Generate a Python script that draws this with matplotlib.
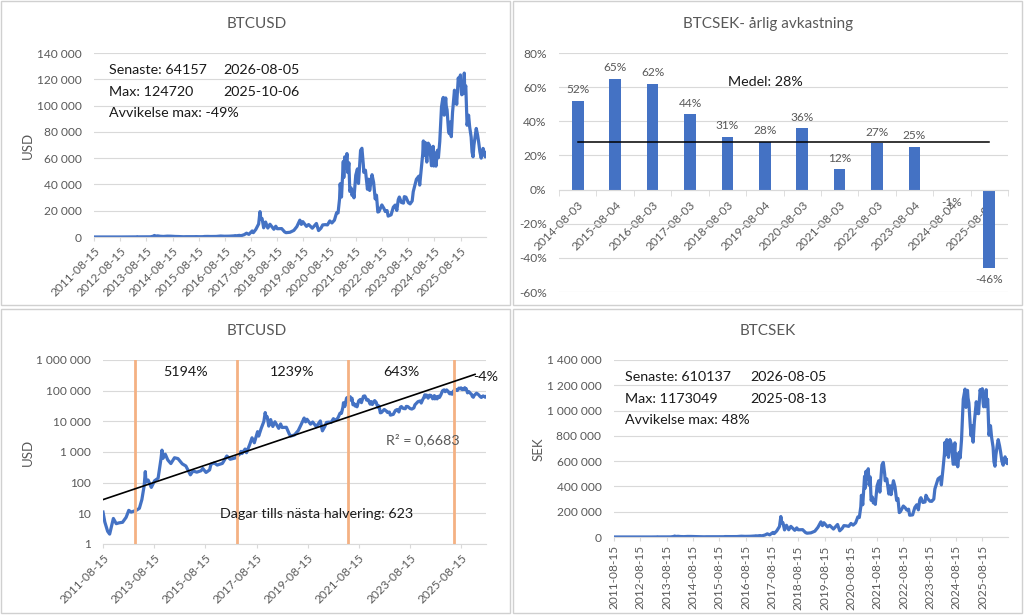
import numpy as np
import pandas as pd
import matplotlib
matplotlib.use("Agg")
import matplotlib.pyplot as plt
import matplotlib.dates as mdates
from matplotlib.ticker import FuncFormatter, FixedLocator, NullLocator
from matplotlib.patches import Rectangle

plt.rcParams['font.family'] = ['Lato', 'DejaVu Sans']

# ---- data ----
dates = [
    "2011-08-15", "2011-09-10", "2011-10-20", "2011-11-18", "2011-12-20", "2012-01-10",
    "2012-02-20", "2012-04-01", "2012-05-20", "2012-07-10", "2012-08-17", "2012-09-20",
    "2012-11-28", "2013-01-15", "2013-02-20", "2013-03-25", "2013-04-10", "2013-04-20",
    "2013-05-20", "2013-07-05", "2013-08-20", "2013-10-10", "2013-11-20", "2013-12-04",
    "2013-12-18", "2014-01-20", "2014-02-25", "2014-04-10", "2014-06-01", "2014-07-20",
    "2014-09-20", "2014-11-10", "2015-01-14", "2015-02-20", "2015-04-15", "2015-06-15",
    "2015-07-10", "2015-08-25", "2015-10-15", "2015-11-04", "2015-12-20", "2016-02-01",
    "2016-04-15", "2016-06-17", "2016-08-05", "2016-10-15", "2016-12-20", "2017-01-05",
    "2017-01-20", "2017-03-05", "2017-03-25", "2017-05-10", "2017-06-12", "2017-07-15",
    "2017-08-30", "2017-09-15", "2017-10-20", "2017-11-28", "2017-12-17", "2017-12-30",
    "2018-01-15", "2018-02-06", "2018-03-05", "2018-04-05", "2018-05-05", "2018-06-28",
    "2018-07-25", "2018-08-15", "2018-10-15", "2018-11-25", "2018-12-15", "2019-02-08",
    "2019-04-03", "2019-05-15", "2019-06-26", "2019-07-17", "2019-08-06", "2019-09-26",
    "2019-10-26", "2019-12-17", "2020-02-12", "2020-03-13", "2020-04-15", "2020-05-10",
    "2020-06-15", "2020-07-15", "2020-08-17", "2020-09-15", "2020-10-20", "2020-11-20",
    "2020-12-10", "2020-12-31", "2021-01-08", "2021-01-27", "2021-02-21", "2021-02-28",
    "2021-03-13", "2021-03-25", "2021-04-13", "2021-04-25", "2021-05-10", "2021-05-23",
    "2021-06-10", "2021-06-22", "2021-07-10", "2021-07-20", "2021-08-14", "2021-09-06",
    "2021-09-21", "2021-10-20", "2021-11-08", "2021-11-28", "2021-12-04", "2021-12-27",
    "2022-01-24", "2022-02-10", "2022-02-24", "2022-03-29", "2022-04-20", "2022-05-12",
    "2022-05-30", "2022-06-18", "2022-07-03", "2022-08-13", "2022-09-10", "2022-09-30",
    "2022-10-25", "2022-11-09", "2022-12-20", "2023-01-20", "2023-02-15", "2023-03-10",
    "2023-03-30", "2023-04-14", "2023-05-12", "2023-06-10", "2023-06-23", "2023-07-15",
    "2023-08-18", "2023-09-11", "2023-10-10", "2023-10-25", "2023-12-08", "2024-01-11",
    "2024-01-23", "2024-02-15", "2024-03-05", "2024-03-14", "2024-03-20", "2024-04-08",
    "2024-05-01", "2024-05-21", "2024-06-10", "2024-07-05", "2024-07-29", "2024-08-05",
    "2024-08-25", "2024-09-06", "2024-09-27", "2024-10-10", "2024-10-29", "2024-11-12",
    "2024-11-22", "2024-12-05", "2024-12-17", "2024-12-30", "2025-01-20", "2025-01-27",
    "2025-02-08", "2025-02-28", "2025-03-11", "2025-03-24", "2025-04-08", "2025-04-25",
    "2025-05-22", "2025-06-05", "2025-06-12", "2025-06-22", "2025-07-14", "2025-07-31",
    "2025-08-13", "2025-08-25", "2025-09-01", "2025-09-18", "2025-09-25", "2025-10-06",
    "2025-10-12", "2025-10-27", "2025-11-04", "2025-11-14", "2025-12-05", "2025-12-20",
    "2026-01-10", "2026-01-22", "2026-02-05", "2026-02-18", "2026-03-10", "2026-03-22",
    "2026-04-10", "2026-04-25", "2026-05-12", "2026-05-30", "2026-06-10", "2026-06-25",
    "2026-07-15", "2026-07-25", "2026-08-05",
]
btc_usd = [
    11, 5.2, 2.6, 2.1, 4.2, 6.8,
    4.6, 4.9, 5.1, 7.4, 12.5, 11,
    12.4, 14.5, 28, 80, 230, 105,
    122, 70, 115, 140, 600, 1150,
    620, 850, 550, 420, 650, 610,
    410, 350, 180, 240, 220, 245,
    290, 215, 260, 400, 440, 375,
    425, 740, 580, 640, 860, 1050,
    890, 1250, 950, 1750, 2900, 2000,
    4600, 3300, 5800, 9900, 19300, 13500,
    14000, 7000, 11400, 6800, 9700, 5900,
    8200, 6300, 6400, 3900, 3300, 3600,
    5000, 7900, 12800, 9600, 11700, 8100,
    9500, 6700, 10300, 4900, 6700, 9200,
    9400, 9200, 12200, 10700, 12800, 18500,
    18300, 29000, 40500, 30400, 57500, 45200,
    61000, 52300, 63500, 49000, 56500, 34700,
    37300, 31700, 33800, 29800, 47000, 51800,
    40700, 65900, 67500, 54700, 49200, 50800,
    36300, 44000, 35400, 47400, 41500, 29000,
    31800, 19000, 19300, 24400, 21800, 19400,
    20100, 15900, 16900, 22700, 24300, 20200,
    28400, 30400, 26300, 25800, 30700, 30300,
    26100, 25200, 27400, 34500, 43900, 46300,
    39500, 52000, 63000, 73100, 62000, 72000,
    57000, 71400, 69600, 54200, 69000, 54000,
    64000, 53900, 66000, 60300, 72700, 88000,
    98900, 103700, 106200, 92700, 105800, 99700,
    96700, 80800, 78600, 87500, 76300, 94700,
    111700, 101600, 108400, 100900, 121000, 115700,
    123300, 110100, 108200, 117000, 109000, 124720,
    112000, 115000, 101000, 85000, 92700, 83800,
    76000, 64800, 61000, 70000, 78000, 82600,
    77500, 72000, 64800, 60000, 63000, 67400,
    63500, 61000, 64157,
]
btc_sek = [
    72, 34, 17, 14, 29, 47,
    31, 33, 36, 52, 83, 73,
    83, 93, 180, 520, 1500, 690,
    800, 470, 760, 900, 3900, 7500,
    4050, 5500, 3550, 2750, 4350, 4200,
    2950, 2600, 1450, 2000, 1900, 2000,
    2450, 1800, 2150, 3450, 3750, 3200,
    3450, 6200, 4950, 5600, 7950, 9500,
    8000, 11200, 8500, 15500, 25000, 16800,
    36500, 27000, 47500, 83000, 162000, 112000,
    113000, 56000, 93000, 57000, 84000, 53000,
    72000, 57000, 58000, 35000, 30000, 33000,
    46000, 76000, 120000, 90000, 113000, 80000,
    92000, 63000, 99000, 49000, 67000, 90000,
    88000, 84000, 107000, 94000, 112000, 159000,
    154000, 240000, 330000, 255000, 480000, 385000,
    520000, 455000, 540000, 410000, 475000, 290000,
    315000, 270000, 290000, 258000, 405000, 445000,
    355000, 570000, 590000, 495000, 445000, 460000,
    340000, 405000, 335000, 445000, 395000, 290000,
    305000, 193000, 200000, 245000, 230000, 213000,
    220000, 172000, 175000, 234000, 255000, 215000,
    295000, 311000, 273000, 277000, 330000, 305000,
    283000, 282000, 300000, 380000, 460000, 475000,
    412000, 540000, 655000, 750000, 650000, 770000,
    630000, 770000, 735000, 575000, 745000, 575000,
    655000, 555000, 670000, 625000, 770000, 960000,
    1090000, 1130000, 1170000, 1025000, 1160000, 1100000,
    1060000, 870000, 800000, 880000, 750000, 910000,
    1070000, 980000, 1030000, 975000, 1165000, 1120000,
    1173049, 1060000, 1030000, 1100000, 1030000, 1165000,
    1060000, 1090000, 960000, 805000, 880000, 790000,
    710000, 595000, 560000, 650000, 730000, 770000,
    720000, 670000, 600000, 568000, 590000, 634000,
    600000, 580000, 610137,
]

year_dates = ["2014-08-03", "2015-08-04", "2016-08-03", "2017-08-03", "2018-08-03", "2019-08-04",
              "2020-08-03", "2021-08-03", "2022-08-03", "2023-08-04", "2024-08-04", "2025-08-04"]
year_returns = [52, 65, 62, 44, 31, 28, 36, 12, 27, 25, -1, -46]

halving_dates = ["2012-11-10", "2016-11-06", "2021-03-17", "2025-05-05"]
halving_gains = ["5194%", "1239%", "643%", "-4%"]
trend_dates = ["2011-08-15", "2026-03-01"]
trend_values = [28, 340000]

BLUE = "#4472C4"
ORANGE = "#F4B183"
GRID = "#D9D9D9"
TXT = "#595959"
DARK = "#1A1A1A"
TICK_FS = 8.6
NOTE_FS = 10.3

d = pd.to_datetime(dates)
usd = np.array(btc_usd, dtype=float)
sek = np.array(btc_sek, dtype=float)
x0, x1 = d[0], d[-1]

space_fmt = FuncFormatter(lambda v, p: f"{int(round(v)):,}".replace(",", " "))


def base_style(ax):
    for s in ["top", "right", "left"]:
        ax.spines[s].set_visible(False)
    ax.spines["bottom"].set_color(GRID)
    ax.grid(axis="y", color=GRID, lw=0.8)
    ax.set_axisbelow(True)
    ax.tick_params(axis="y", length=0, pad=9, labelsize=TICK_FS, labelcolor=TXT)
    ax.tick_params(axis="x", length=3, color=GRID, labelsize=TICK_FS, labelcolor=TXT, pad=3)


def year_ticks(ax, step, rot):
    ticks = pd.to_datetime([f"{y}-08-15" for y in range(2011, 2026, step)])
    ax.set_xticks(ticks)
    ax.set_xticklabels([t.strftime("%Y-%m-%d") for t in ticks])
    if rot == 90:
        plt.setp(ax.get_xticklabels(), rotation=90, ha="center", va="top")
    else:
        plt.setp(ax.get_xticklabels(), rotation=45, ha="right", va="top", rotation_mode="anchor")


def note(ax, x, y, s, **kw):
    ax.text(x, y, s, transform=ax.transAxes, fontsize=NOTE_FS, color=DARK, va="center", **kw)


fig = plt.figure(figsize=(10.24, 6.15), dpi=100)

# panel frames
for (px, py) in [(1, 1), (513, 1), (1, 309), (513, 309)]:
    fig.add_artist(Rectangle((px / 1024, 1 - (py + 304) / 615), 509 / 1024, 304 / 615,
                             transform=fig.transFigure, fill=False, ec="#D0D0D0", lw=1))

# ---- top left: BTCUSD linear ----
ax1 = fig.add_axes([94 / 1024, 1 - 237 / 615, 392 / 1024, 184 / 615])
base_style(ax1)
ax1.plot(d, usd, color=BLUE, lw=2.3)
ax1.set_xlim(x0, x1)
ax1.set_ylim(0, 140000)
ax1.set_yticks(np.arange(0, 140001, 20000))
ax1.yaxis.set_major_formatter(space_fmt)
year_ticks(ax1, 1, 45)
imax = int(np.argmax(usd))
note(ax1, 0.038, 0.905, f"Senaste: {usd[-1]:.0f}")
note(ax1, 0.33, 0.905, d[-1].strftime("%Y-%m-%d"))
note(ax1, 0.038, 0.79, f"Max: {usd[imax]:.0f}")
note(ax1, 0.33, 0.79, d[imax].strftime("%Y-%m-%d"))
note(ax1, 0.038, 0.675, "Avvikelse max: -49%")
fig.text(28 / 1024, 1 - 145 / 615, "USD", rotation=90, ha="center", va="center", fontsize=9.5, color=TXT)
fig.text(257 / 1024, 1 - 24 / 615, "BTCUSD", ha="center", va="center", fontsize=11, color=TXT)

# ---- top right: yearly returns ----
ax2 = fig.add_axes([559 / 1024, 1 - 292 / 615, 449 / 1024, 239 / 615])
base_style(ax2)
xb = np.arange(len(year_returns))
ax2.bar(xb, year_returns, width=0.31, color=BLUE, zorder=2)
ax2.set_xlim(-0.5, len(year_returns) - 0.5)
ax2.set_ylim(-60, 80)
ax2.set_yticks(np.arange(-60, 81, 20))
ax2.yaxis.set_major_formatter(FuncFormatter(lambda v, p: f"{v:.0f}%"))
ax2.spines["bottom"].set_position(("data", 0))
ax2.set_xticks(xb)
ax2.set_xticklabels(year_dates)
ax2.set_xticks(np.arange(len(year_returns) + 1) - 0.5, minor=True)
ax2.tick_params(axis="x", which="major", length=0, pad=7)
ax2.tick_params(axis="x", which="minor", length=4, color=GRID)
plt.setp(ax2.get_xticklabels(), rotation=45, ha="right", va="top", rotation_mode="anchor")
for i, v in enumerate(year_returns):
    ax2.annotate(f"{v}%", (i, v), xytext=(0, 4 if v >= 0 else -4), textcoords="offset points",
                 ha="center", va="bottom" if v >= 0 else "top", fontsize=8.6, color=TXT, zorder=4)
mean_ret = np.mean(year_returns)
ax2.plot([xb[0], xb[-1]], [mean_ret, mean_ret], color="black", lw=1.1, zorder=3)
note(ax2, 0.46, 0.88, f"Medel: {mean_ret:.0f}%", ha="center")
fig.text(768 / 1024, 1 - 24 / 615, "BTCSEK- årlig avkastning", ha="center", va="center", fontsize=11, color=TXT)

# ---- bottom left: BTCUSD log with halvings ----
ax3 = fig.add_axes([103 / 1024, 1 - 544 / 615, 383 / 1024, 184 / 615])
base_style(ax3)
ax3.set_yscale("log")
ax3.plot(d, usd, color=BLUE, lw=2.3, zorder=2)
hd = pd.to_datetime(halving_dates)
for h in hd:
    ax3.axvline(h, color=ORANGE, lw=2.0, zorder=3)
td = pd.to_datetime(trend_dates)
ax3.plot(td, trend_values, color="black", lw=1.2, zorder=4)
ax3.set_xlim(x0, x1)
ax3.set_ylim(1, 1e6)
ax3.yaxis.set_major_locator(FixedLocator([1, 10, 100, 1e3, 1e4, 1e5, 1e6]))
ax3.yaxis.set_minor_locator(NullLocator())
ax3.yaxis.set_major_formatter(space_fmt)
year_ticks(ax3, 2, 45)
xn = mdates.date2num(list(hd) + [x1])
for i, lab in enumerate(halving_gains):
    if i < len(hd) - 1:
        xm = (xn[i] + xn[i + 1]) / 2
        ax3.text(xm, 4e5, lab, ha="center", va="center", fontsize=NOTE_FS, color=DARK, zorder=5)
    else:
        ax3.text(1.0, 0.905, lab, transform=ax3.transAxes, ha="center", va="center",
                 fontsize=NOTE_FS, color=DARK, zorder=5)
ax3.text(0.739, 0.568, "R² = 0,6683", transform=ax3.transAxes, ha="left", va="center",
         fontsize=NOTE_FS, color=TXT, zorder=5)
ax3.text(0.557, 0.165, "Dagar tills nästa halvering: 623", transform=ax3.transAxes, ha="center",
         va="center", fontsize=NOTE_FS, color=DARK, zorder=5)
fig.text(28 / 1024, 1 - 452 / 615, "USD", rotation=90, ha="center", va="center", fontsize=9.5, color=TXT)
fig.text(257 / 1024, 1 - 331 / 615, "BTCUSD", ha="center", va="center", fontsize=11, color=TXT)

# ---- bottom right: BTCSEK ----
ax4 = fig.add_axes([614 / 1024, 1 - 537 / 615, 394 / 1024, 177 / 615])
base_style(ax4)
ax4.plot(d, sek, color=BLUE, lw=2.3)
ax4.set_xlim(x0, x1)
ax4.set_ylim(0, 1400000)
ax4.set_yticks(np.arange(0, 1400001, 200000))
ax4.yaxis.set_major_formatter(space_fmt)
year_ticks(ax4, 1, 90)
jmax = int(np.argmax(sek))
note(ax4, 0.028, 0.905, f"Senaste: {sek[-1]:.0f}")
note(ax4, 0.345, 0.905, d[-1].strftime("%Y-%m-%d"))
note(ax4, 0.028, 0.78, f"Max: {sek[jmax]:.0f}")
note(ax4, 0.345, 0.78, d[jmax].strftime("%Y-%m-%d"))
note(ax4, 0.028, 0.66, "Avvikelse max: 48%")
fig.text(539 / 1024, 1 - 449 / 615, "SEK", rotation=90, ha="center", va="center", fontsize=9.5, color=TXT)
fig.text(768 / 1024, 1 - 331 / 615, "BTCSEK", ha="center", va="center", fontsize=11, color=TXT)

fig.savefig("out.png", dpi=100, facecolor="white")
